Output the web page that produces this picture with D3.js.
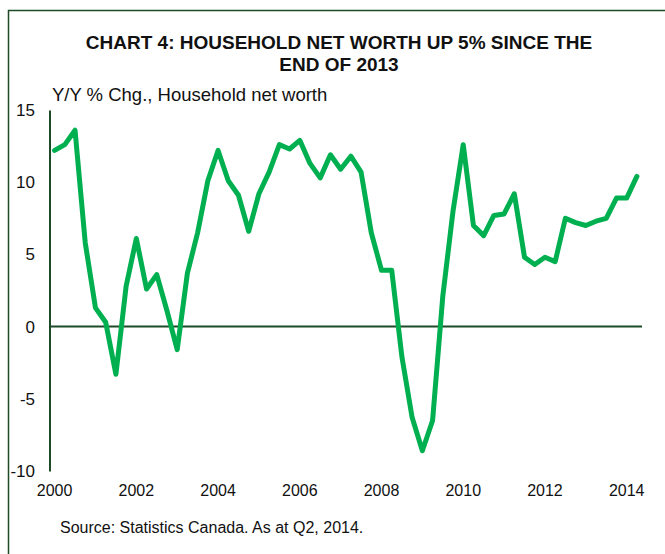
<!DOCTYPE html>
<html lang="en">
<head>
  <meta charset="UTF-8">
  <title>Chart 4: Household net worth</title>
  <script src="https://d3js.org/d3.v7.min.js"></script>
  <style>
    body { margin: 0; background: #fff; }
    svg { display: block; font-family: "Liberation Sans", Arial, sans-serif; }
  </style>
</head>
<body>
  <svg id="chart" width="665" height="554"></svg>

<script>
  // Quarterly data, 2000Q1 -> 2014Q2
  const quarters = [
    "2000Q1","2000Q2","2000Q3","2000Q4","2001Q1","2001Q2","2001Q3","2001Q4",
    "2002Q1","2002Q2","2002Q3","2002Q4","2003Q1","2003Q2","2003Q3","2003Q4",
    "2004Q1","2004Q2","2004Q3","2004Q4","2005Q1","2005Q2","2005Q3","2005Q4",
    "2006Q1","2006Q2","2006Q3","2006Q4","2007Q1","2007Q2","2007Q3","2007Q4",
    "2008Q1","2008Q2","2008Q3","2008Q4","2009Q1","2009Q2","2009Q3","2009Q4",
    "2010Q1","2010Q2","2010Q3","2010Q4","2011Q1","2011Q2","2011Q3","2011Q4",
    "2012Q1","2012Q2","2012Q3","2012Q4","2013Q1","2013Q2","2013Q3","2013Q4",
    "2014Q1","2014Q2"
  ];
  // Y/Y % change, household net worth
  const netWorth = [
    12.2, 12.6, 13.6, 5.8, 1.3, 0.3, -3.3, 2.8,
    6.1, 2.6, 3.6, 1.1, -1.6, 3.7, 6.5, 10.1,
    12.2, 10.1, 9.1, 6.6, 9.2, 10.7, 12.6, 12.3,
    12.9, 11.3, 10.3, 11.9, 10.9, 11.8, 10.7, 6.5,
    3.9, 3.9, -2.1, -6.3, -8.6, -6.5, 2.1, 8.0,
    12.6, 7.0, 6.3, 7.7, 7.8, 9.2, 4.8, 4.3,
    4.8, 4.5, 7.5, 7.2, 7.0, 7.3, 7.5, 8.9,
    8.9, 10.4
  ];
  const xTickQuarters = ["2000Q1","2002Q1","2004Q1","2006Q1","2008Q1","2010Q1","2012Q1","2014Q1"];
  const yTicks = [-10, -5, 0, 5, 10, 15];

  const darkGreen = "#1d4a27";
  const lineGreen = "#00b050";

  const svg = d3.select("#chart");

  // cadre
  svg.append("rect")
     .attr("x", 8.5).attr("y", 10.5)
     .attr("width", 700).attr("height", 600)
     .attr("fill", "none")
     .attr("stroke", darkGreen)
     .attr("stroke-width", 1.5);

  // titre
  const title = svg.append("text")
     .attr("text-anchor", "middle")
     .attr("font-size", 19)
     .attr("font-weight", "bold")
     .attr("fill", "#111");
  title.append("tspan").attr("x", 339).attr("y", 48.5)
       .text("CHART 4: HOUSEHOLD NET WORTH UP 5% SINCE THE");
  title.append("tspan").attr("x", 339).attr("y", 71)
       .text("END OF 2013");

  svg.append("text")
     .attr("x", 52).attr("y", 100.5)
     .attr("font-size", 18.5)
     .attr("fill", "#111")
     .text("Y/Y % Chg., Household net worth");

  // échelles
  const x = d3.scaleBand()
              .domain(quarters)
              .range([49.5, 642])
              .padding(0);

  const y = d3.scaleLinear()
              .domain([-10, 15])
              .range([471, 110]);

  const cx = q => x(q) + x.bandwidth() / 2;

  // axe Y (trait d'union simple comme signe moins)
  const yAxisGroup = svg.append("g")
     .attr("transform", "translate(49.5,0)")
     .call(d3.axisLeft(y).tickValues(yTicks).tickFormat(d => String(d))
             .tickSize(0).tickSizeOuter(0).tickPadding(14.5));
  yAxisGroup.select(".domain")
     .attr("stroke", darkGreen)
     .attr("stroke-width", 2);
  yAxisGroup.selectAll("text")
     .attr("font-size", 17)
     .attr("font-family", "Liberation Sans, Arial, sans-serif")
     .attr("fill", "#111");

  // axe X (étiquettes seulement)
  const xAxisGroup = svg.append("g")
     .attr("transform", "translate(0,471)")
     .call(d3.axisBottom(x).tickValues(xTickQuarters).tickFormat(q => q.slice(0, 4)).tickSize(0));
  xAxisGroup.select(".domain").remove();
  xAxisGroup.selectAll(".tick").attr("transform", d => `translate(${cx(d)},0)`);
  xAxisGroup.selectAll("text")
     .attr("y", 25).attr("dy", 0)
     .attr("font-size", 16)
     .attr("font-family", "Liberation Sans, Arial, sans-serif")
     .attr("fill", "#111");

  // ligne zéro
  svg.append("line")
     .attr("x1", x.range()[0]).attr("x2", x.range()[1])
     .attr("y1", y(0)).attr("y2", y(0))
     .attr("stroke", darkGreen)
     .attr("stroke-width", 2);

  // série
  const line = d3.line()
                 .x((d, i) => cx(quarters[i]))
                 .y(d => y(d));

  svg.append("path")
     .datum(netWorth)
     .attr("fill", "none")
     .attr("stroke", lineGreen)
     .attr("stroke-width", 5)
     .attr("stroke-linejoin", "round")
     .attr("stroke-linecap", "round")
     .attr("d", line);

  // source
  svg.append("text")
     .attr("x", 60).attr("y", 533)
     .attr("font-size", 16)
     .attr("fill", "#111")
     .text("Source: Statistics Canada. As at Q2, 2014.");
</script>
</body>
</html>
